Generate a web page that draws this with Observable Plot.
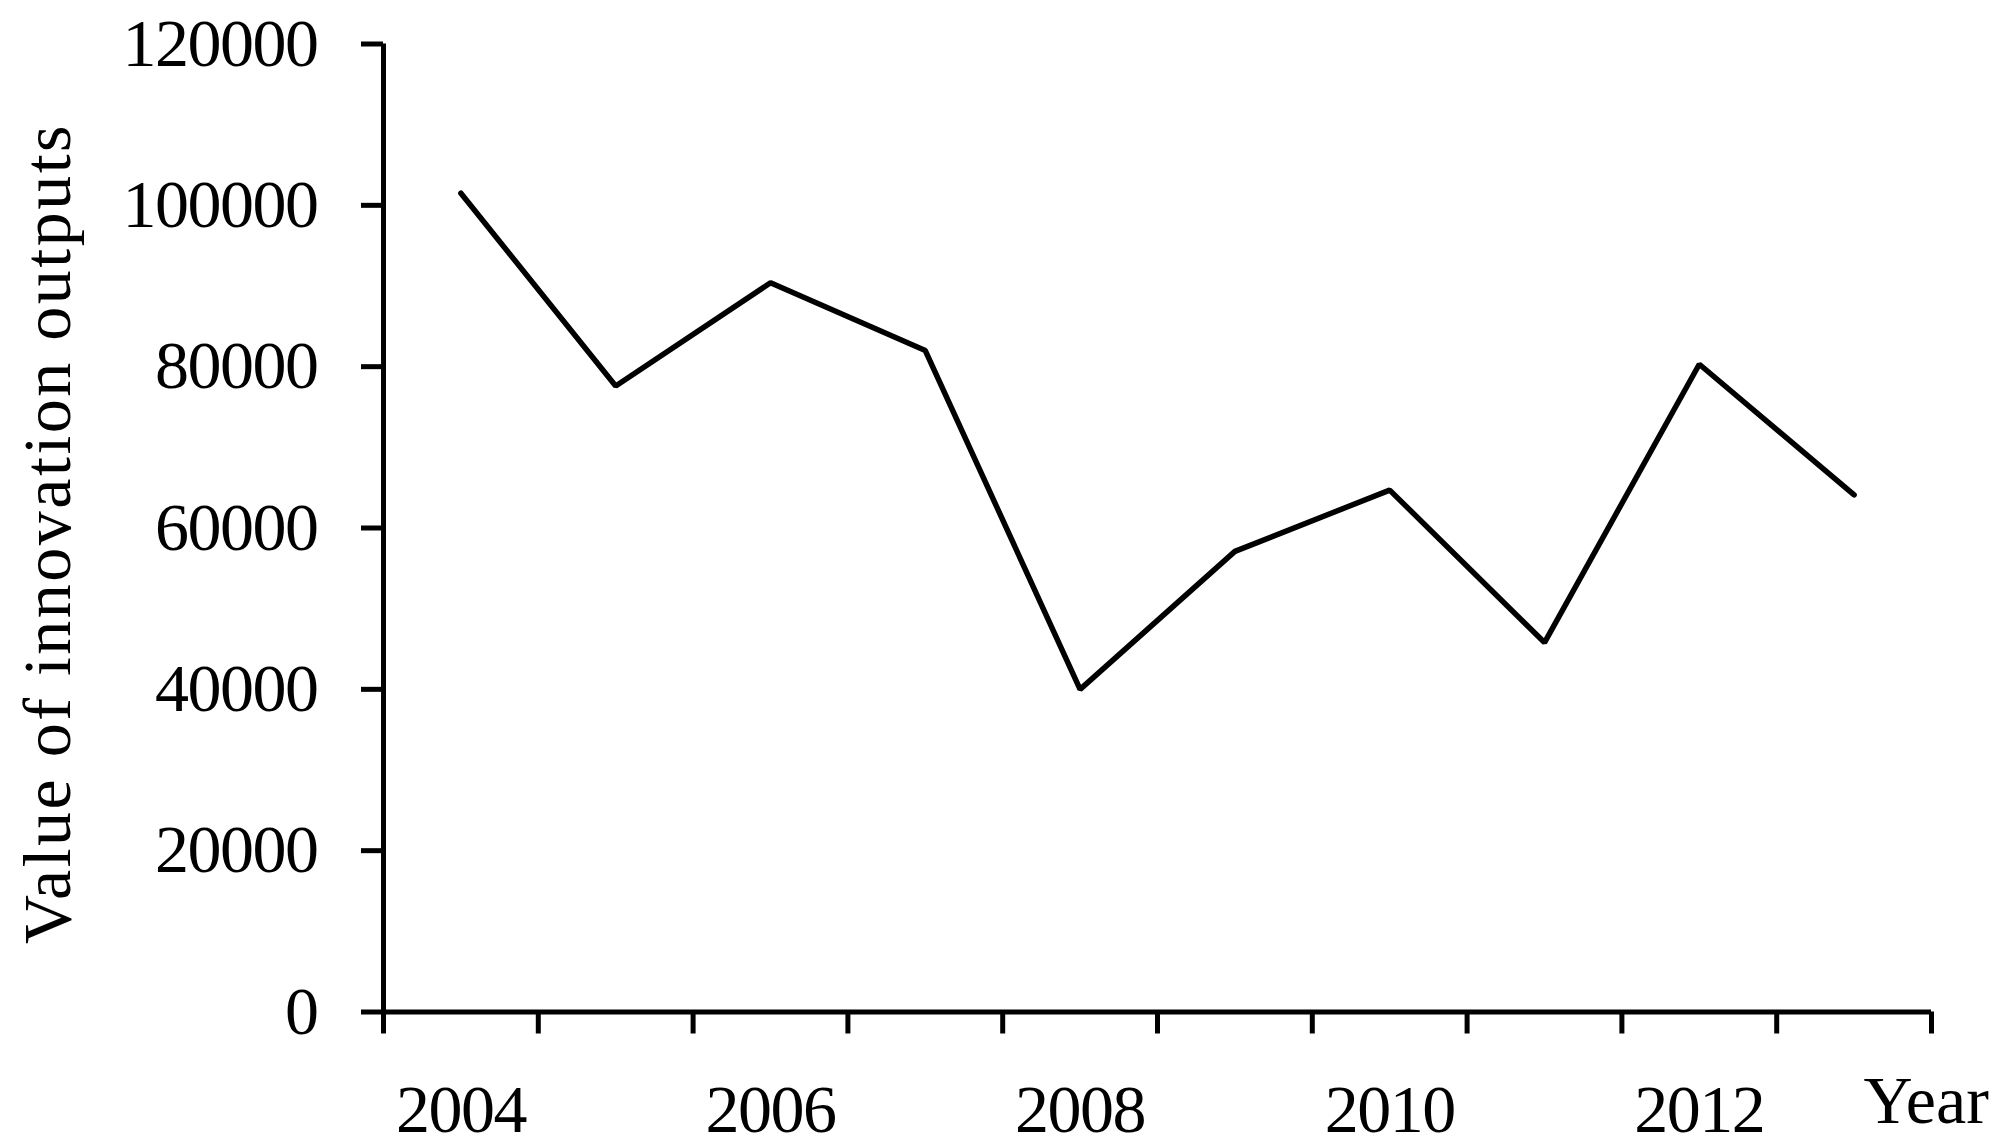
<!DOCTYPE html>
<html>
<head>
<meta charset="utf-8">
<script src="https://cdn.jsdelivr.net/npm/d3@7"></script>
<script src="https://cdn.jsdelivr.net/npm/@observablehq/plot@0.6"></script>
<style>
  html, body { margin: 0; padding: 0; background: #fff; }
  svg { display: block; }
  g[aria-label$="tick label"] text { letter-spacing: -1.5px; }
</style>
</head>
<body>
<div id="chart"></div>
<script>
// ---- data ----
const years = [2004, 2005, 2006, 2007, 2008, 2009, 2010, 2011, 2012, 2013];
const values = [101500, 77600, 90400, 82000, 40000, 57100, 64700, 45800, 80300, 64100];
const yTicks = [0, 20000, 40000, 60000, 80000, 100000, 120000];
const xTickBounds = [2003.5, 2004.5, 2005.5, 2006.5, 2007.5, 2008.5, 2009.5, 2010.5, 2011.5, 2012.5, 2013.5];
const xLabelYears = [2004, 2006, 2008, 2010, 2012];
const yTitle = "Value of innovation outputs";
const xTitle = "Year";

const data = years.map((year, i) => ({year, value: values[i]}));
const font = "'Liberation Serif', 'Times New Roman', serif";
const fs = 68;

const chart = Plot.plot({
  width: 2015,
  height: 1144,
  marginLeft: 383,
  marginRight: 84,
  marginTop: 43.5,
  marginBottom: 132.5,
  style: {fontFamily: font, fontSize: fs + "px", color: "#000", background: "#fff", overflow: "visible"},
  x: {type: "linear", domain: [xTickBounds[0], xTickBounds[xTickBounds.length - 1]]},
  y: {type: "linear", domain: [yTicks[0], yTicks[yTicks.length - 1]]},
  marks: [
    Plot.axisY(yTicks, {tickSize: 22, tickPadding: 44, strokeWidth: 5, tickFormat: d => String(d), fontSize: fs, label: null}),
    Plot.axisX(xTickBounds, {tickSize: 22, strokeWidth: 5, fill: "none", label: null}),
    Plot.axisX(xLabelYears, {tickSize: 0, tickPadding: 71.5, tickFormat: d => String(d), fontSize: fs, label: null}),
    Plot.ruleX([xTickBounds[0]], {strokeWidth: 5, stroke: "#000"}),
    Plot.ruleY([yTicks[0]], {strokeWidth: 5, stroke: "#000"}),
    Plot.line(data, {x: "year", y: "value", stroke: "#000", strokeWidth: 5.5, strokeLinejoin: "miter", strokeLinecap: "round"}),
    Plot.text([yTitle], {frameAnchor: "left", textAnchor: "middle", lineAnchor: "middle", rotate: -90, dx: -335, dy: 5.5, fontSize: fs, fill: "#000"}),
    Plot.text([xTitle], {frameAnchor: "bottom-right", textAnchor: "start", lineAnchor: "bottom", dx: -68, dy: 110.5, fontSize: fs, fill: "#000"})
  ]
});

d3.select(chart).selectAll("text")
  .filter(function () { return this.textContent === yTitle; })
  .style("letter-spacing", "2.5px");

document.getElementById("chart").appendChild(chart);
</script>
</body>
</html>
